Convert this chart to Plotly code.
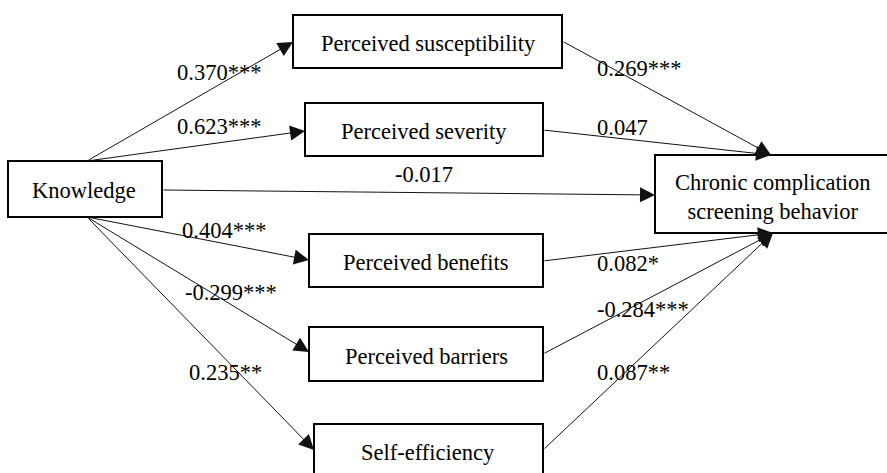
import plotly.graph_objects as go

# ---- data ----
nodes = ["Knowledge", "Perceived susceptibility", "Perceived severity",
         "Perceived benefits", "Perceived barriers", "Self-efficiency",
         "Chronic complication<br>screening behavior"]
edge_src = [0, 0, 0, 0, 0, 0, 1, 2, 3, 4, 5]
edge_tgt = [1, 2, 6, 3, 4, 5, 6, 6, 6, 6, 6]
edge_labels = ["0.370***", "0.623***", "-0.017", "0.404***", "-0.299***", "0.235**",
               "0.269***", "0.047", "0.082*", "-0.284***", "0.087**"]

# ---- layout geometry (pixels, y down) ----
W, H = 887, 473
PAD = 40  # canvas extends past the window so the off-edge box stays open
box = [  # x0, y0, x1, y1
    (8, 161, 162, 217),
    (293, 15, 562, 68),
    (305, 103, 543, 156),
    (309, 234, 543, 287),
    (309, 327, 543, 381),
    (314, 424, 543, 490),
    (655, 155, 990, 233),
]
text_pos = [(84, 190), (428, 43), (424, 131), (426, 262), (426, 356), (428, 452), (773, 197)]
# edge tail / tip points
tails = [(87, 161), (87, 161), (162, 190), (87, 217), (87, 217), (87, 217),
         (562, 41), (543, 130), (543, 261), (543, 354), (543, 450)]
tips = [(293, 42), (305, 131), (655, 195), (309, 260), (309, 352), (314, 450),
        (771, 155), (771, 155), (773, 233), (773, 233), (773, 233)]
label_pos = [(175, 72), (175, 126), (393, 174), (180, 230), (183, 292), (187, 372),
             (595, 68), (595, 127), (595, 263), (595, 309), (595, 372)]

FONT = dict(family="Liberation Serif, Times New Roman, serif", size=22.5, color="black")

fig = go.Figure()
shapes = []
annotations = []
for i, name in enumerate(nodes):
    x0, y0, x1, y1 = box[i]
    if x1 > W:  # box runs off the right edge: draw open-ended outline
        path = f"M {x1},{y0} L {x0},{y0} L {x0},{y1} L {x1},{y1}"
        shapes.append(dict(type="path", xref="x", yref="y", path=path,
                           line=dict(color="black", width=2), fillcolor="white", layer="above"))
    else:
        shapes.append(dict(type="rect", xref="x", yref="y", x0=x0, y0=y0, x1=x1, y1=y1,
                           line=dict(color="black", width=2), fillcolor="white", layer="above"))
    annotations.append(dict(x=text_pos[i][0], y=text_pos[i][1], xref="x", yref="y",
                            text=name, showarrow=False, font=FONT, align="center"))

for k in range(len(edge_labels)):
    annotations.append(dict(x=tips[k][0], y=tips[k][1], ax=tails[k][0], ay=tails[k][1],
                            xref="x", yref="y", axref="x", ayref="y", text="",
                            showarrow=True, arrowhead=2, arrowsize=3, arrowwidth=1,
                            arrowcolor="#111"))
    annotations.append(dict(x=label_pos[k][0], y=label_pos[k][1], xref="x", yref="y",
                            text=edge_labels[k], showarrow=False, font=FONT,
                            xanchor="left", yanchor="middle"))

fig.update_layout(
    width=W + PAD, height=H, margin=dict(l=0, r=0, t=0, b=0),
    paper_bgcolor="white", plot_bgcolor="white",
    xaxis=dict(range=[0, W + PAD], visible=False, fixedrange=True),
    yaxis=dict(range=[H, 0], visible=False, fixedrange=True),
    shapes=shapes, annotations=annotations, showlegend=False,
)
fig.write_html("out.html", config={"displayModeBar": False},
               post_script="document.documentElement.style.overflow='hidden';document.body.style.margin='0';document.body.style.overflow='hidden';")
